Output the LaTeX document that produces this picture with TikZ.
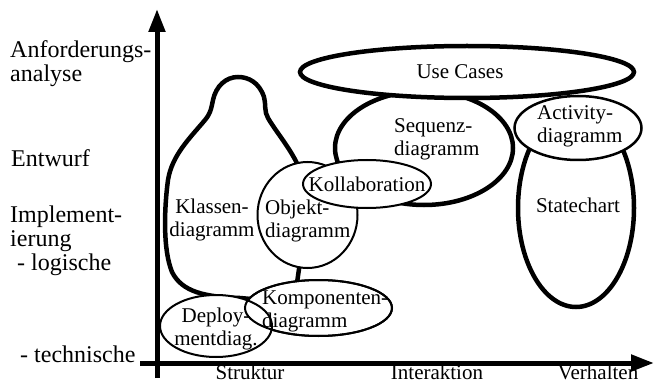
\documentclass[tikz,border=0pt]{standalone}
\usepackage{fontspec}
\setmainfont{Liberation Serif}
\usetikzlibrary{arrows.meta,shapes.geometric}

\begin{document}
\begin{tikzpicture}[x=1pt,y=-1pt,
    fat/.style={line width=4.5pt},
    thin/.style={line width=2pt},
    ax/.style={line width=5pt},
    diag/.style={ellipse,draw,fill=white,inner sep=0pt},
    lbl/.style={inner sep=0pt,align=center,font=\fontsize{21}{23}\selectfont},
    lbll/.style={lbl,align=left,anchor=west},
    lev/.style={anchor=west,align=left,inner sep=0pt,
      font=\fontsize{24}{24}\selectfont}]
  \useasboundingbox (0,0) rectangle (656,385);

  \coordinate (ytop) at (157,9);
  \coordinate (ybot) at (157,378);
  \coordinate (xleft) at (140,363);
  \coordinate (xend) at (654,363);

  \coordinate (a) at (300,170);
  \coordinate (b) at (268,118);
  \coordinate (c) at (264,97);
  \coordinate (d) at (238,77);
  \coordinate (e) at (213,100);
  \coordinate (f) at (205,120);
  \coordinate (g) at (168,180);
  \coordinate (h) at (172,272);
  \coordinate (i) at (240,298);
  \coordinate (j) at (262,300);
  \coordinate (k) at (296,290);
  \coordinate (l) at (300,262);

  \draw[fat] (a) .. controls (292,150) and (276,132) .. (b)
  .. controls (264,112) and (266,103) .. (c)
  .. controls (259,82) and (248,77) .. (d)
  .. controls (226,77) and (216,86) .. (e)
  .. controls (211,110) and (210,114) .. (f)
  .. controls (190,138) and (172,155) .. (g)
  .. controls (164,210) and (163,250) .. (h)
  .. controls (182,292) and (205,297) .. (i)
  -- (j) -- (k) -- (l) -- cycle;

  \node[diag,fat,minimum width=116pt,minimum height=198pt] (state) at (576,208) {};
  \node[diag,line width=2.5pt,minimum width=127pt,minimum height=64pt] (activity) at (578,128) {};
  \node[diag,fat,minimum width=178pt,minimum height=114pt] (sequenz) at (424,148) {};
  \node[diag,fat,minimum width=334pt,minimum height=52pt] (usecases) at (467,72) {};
  \node[diag,thin,minimum width=147pt,minimum height=56pt] (kompo) at (318.5,308) {};
  \node[diag,thin,minimum width=112pt,minimum height=62pt] (deploy) at (216,326) {};
  \node[diag,thin,fill=none,minimum width=147pt,minimum height=56pt] at (kompo) {};
  \node[diag,thin,minimum width=100pt,minimum height=106pt] (objekt) at (307.5,215) {};
  \node[diag,thin,minimum width=128pt,minimum height=48pt] (kollab) at (367,184) {};

  \node[lbl] at (578,205) {Statechart};
  \node[lbll] at (537,126) {Activity-\\diagramm};
  \node[lbll] at (394,139) {Sequenz-\\diagramm};
  \node[lbl] at (460,72) {Use Cases};
  \node[lbll] at (262,311) {Komponenten-\\diagramm};
  \node[lbl] at (216,329) {Deploy-\\mentdiag.};
  \node[lbll] at (265,221) {Objekt-\\diagramm};
  \node[lbl] at (367,184) {Kollaboration};
  \node[lbl] (klassen) at (212,220) {Klassen-\\diagramm};

  \draw[ax,-{Triangle[length=23pt,width=16pt]}] (ybot) -- (ytop);
  \draw[ax,-{Triangle[length=23pt,width=16pt]}] (xleft) -- (xend);

  \node[lev] (anf) at (10,64) {Anforderungs-\\analyse};
  \node[lev] (entw) at (11,158) {Entwurf};
  \node[lev] (impl) at (10,241) {Implement-\\ierung\\\hspace{7pt}- logische};
  \node[lev] (tech) at (20,354) {- technische};

  \node[lbl] (struk) at (250,372) {Struktur};
  \node[lbl] (inter) at (437,372) {Interaktion};
  \node[lbl] (verh) at (598,372) {Verhalten};
\end{tikzpicture}
\end{document}
